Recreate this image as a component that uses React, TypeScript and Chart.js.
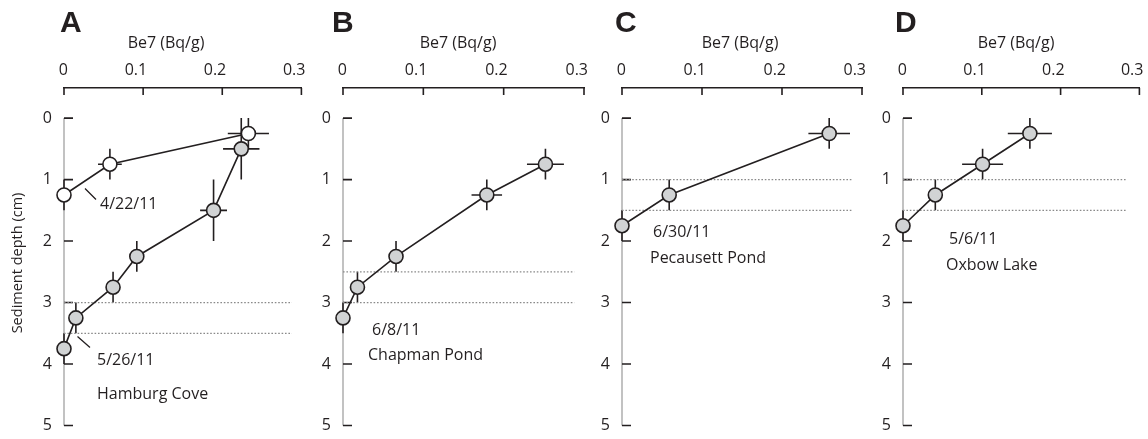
import React, { useEffect, useRef } from 'react';
import { Chart, registerables } from 'chart.js';

Chart.register(...registerables);

// ---------- shared axis data ----------
const X_TICKS = [0, 0.1, 0.2, 0.3];
const X_TICK_LABELS = ['0', '0.1', '0.2', '0.3'];
const DEPTH_TICKS = [0, 1, 2, 3, 4, 5];
const DEPTH_TICK_LABELS = ['0', '1', '2', '3', '4', '5'];
const X_TITLE = 'Be7 (Bq/g)';
const Y_TITLE = 'Sediment depth (cm)';

// ---------- Panel A: Hamburg Cove ----------
const A_APR_BE7 = [0.233, 0.058, 0];
const A_APR_DEPTH = [0.25, 0.75, 1.25];
const A_APR_BE7_ERR = [0.026, 0.015, 0];
const A_APR_DEPTH_ERR = [0.25, 0.25, 0.25];

const A_MAY_BE7 = [0.224, 0.189, 0.092, 0.062, 0.015, 0];
const A_MAY_DEPTH = [0.5, 1.5, 2.25, 2.75, 3.25, 3.75];
const A_MAY_BE7_ERR = [0.023, 0.017, 0.008, 0, 0, 0];
const A_MAY_DEPTH_ERR = [0.5, 0.5, 0.25, 0.25, 0.25, 0.25];
const A_BOUNDS = [3, 3.5];
const A_NOTES = ['4/22/11', '5/26/11', 'Hamburg Cove'];

// ---------- Panel B: Chapman Pond ----------
const B_BE7 = [0.252, 0.179, 0.066, 0.018, 0];
const B_DEPTH = [0.75, 1.25, 2.25, 2.75, 3.25];
const B_BE7_ERR = [0.023, 0.019, 0, 0, 0];
const B_DEPTH_ERR = [0.25, 0.25, 0.25, 0.25, 0.25];
const B_BOUNDS = [2.5, 3];
const B_NOTES = ['6/8/11', 'Chapman Pond'];

// ---------- Panel C: Pecausett Pond ----------
const C_BE7 = [0.259, 0.059, 0];
const C_DEPTH = [0.25, 1.25, 1.75];
const C_BE7_ERR = [0.026, 0, 0];
const C_DEPTH_ERR = [0.25, 0.25, 0.25];
const C_BOUNDS = [1, 1.5];
const C_NOTES = ['6/30/11', 'Pecausett Pond'];

// ---------- Panel D: Oxbow Lake ----------
const D_BE7 = [0.161, 0.101, 0.041, 0];
const D_DEPTH = [0.25, 0.75, 1.25, 1.75];
const D_BE7_ERR = [0.028, 0.026, 0.005, 0];
const D_DEPTH_ERR = [0.25, 0.25, 0.25, 0.25];
const D_BOUNDS = [1, 1.5];
const D_NOTES = ['5/6/11', 'Oxbow Lake'];

const BOUND_END = [0.288, 0.288, 0.288, 0.283];

// ---------- styling ----------
const H = 439;
const INK = '#231f20';
const GRAY_FILL = '#d1d3d4';
const OPEN_FILL = '#ffffff';
const FONT = '"Open Sans", "Noto Sans", sans-serif';

type Series = { be7: number[]; depth: number[]; be7Err: number[]; depthErr: number[]; fill: string };
type Note = { text: string; x: number; y: number };
type Panel = {
  letter: string;
  left: number;
  width: number;
  chartLeft: number;
  chartRight: number;
  letterX: number;
  titleX: number;
  yTitle: boolean;
  series: Series[];
  bounds: number[];
  boundEnd: number;
  notes: Note[];
  leaders: number[][];
};

const PANELS: Panel[] = [
  {
    letter: 'A', left: 0, width: 310, chartLeft: 64, chartRight: 303, letterX: 60, titleX: 166, yTitle: true,
    series: [
      { be7: A_APR_BE7, depth: A_APR_DEPTH, be7Err: A_APR_BE7_ERR, depthErr: A_APR_DEPTH_ERR, fill: OPEN_FILL },
      { be7: A_MAY_BE7, depth: A_MAY_DEPTH, be7Err: A_MAY_BE7_ERR, depthErr: A_MAY_DEPTH_ERR, fill: GRAY_FILL },
    ],
    bounds: A_BOUNDS, boundEnd: BOUND_END[0],
    notes: [
      { text: A_NOTES[0], x: 100, y: 208.5 },
      { text: A_NOTES[1], x: 97, y: 365 },
      { text: A_NOTES[2], x: 97, y: 399 },
    ],
    leaders: [[85, 188.5, 96, 199.5], [77.5, 336.5, 90, 347.5]],
  },
  {
    letter: 'B', left: 310, width: 288, chartLeft: 33, chartRight: 274, letterX: 332, titleX: 458, yTitle: false,
    series: [{ be7: B_BE7, depth: B_DEPTH, be7Err: B_BE7_ERR, depthErr: B_DEPTH_ERR, fill: GRAY_FILL }],
    bounds: B_BOUNDS, boundEnd: BOUND_END[1],
    notes: [
      { text: B_NOTES[0], x: 372, y: 334.5 },
      { text: B_NOTES[1], x: 368, y: 360 },
    ],
    leaders: [],
  },
  {
    letter: 'C', left: 598, width: 282, chartLeft: 24, chartRight: 264, letterX: 615, titleX: 740, yTitle: false,
    series: [{ be7: C_BE7, depth: C_DEPTH, be7Err: C_BE7_ERR, depthErr: C_DEPTH_ERR, fill: GRAY_FILL }],
    bounds: C_BOUNDS, boundEnd: BOUND_END[2],
    notes: [
      { text: C_NOTES[0], x: 653, y: 237 },
      { text: C_NOTES[1], x: 650, y: 263 },
    ],
    leaders: [],
  },
  {
    letter: 'D', left: 880, width: 268, chartLeft: 23, chartRight: 263, letterX: 895, titleX: 1016, yTitle: false,
    series: [{ be7: D_BE7, depth: D_DEPTH, be7Err: D_BE7_ERR, depthErr: D_DEPTH_ERR, fill: GRAY_FILL }],
    bounds: D_BOUNDS, boundEnd: BOUND_END[3],
    notes: [
      { text: D_NOTES[0], x: 949, y: 243.5 },
      { text: D_NOTES[1], x: 946, y: 269.5 },
    ],
    leaders: [],
  },
];

const decorPlugin = {
  id: 'panelDecor',
  beforeDatasetsDraw(chart: any, _args: any, opts: any) {
    const panel: Panel = opts.panel;
    const { ctx } = chart;
    const xs = chart.scales.x;
    const ys = chart.scales.y;
    const x0 = xs.getPixelForValue(0);
    ctx.save();
    // gray depth axis line
    ctx.strokeStyle = '#c2c2c2';
    ctx.lineWidth = 2;
    ctx.beginPath();
    ctx.moveTo(x0, ys.getPixelForValue(DEPTH_TICKS[0]));
    ctx.lineTo(x0, ys.getPixelForValue(DEPTH_TICKS[DEPTH_TICKS.length - 1]));
    ctx.stroke();
    // inward depth ticks
    ctx.strokeStyle = INK;
    ctx.lineWidth = 1.6;
    ctx.beginPath();
    for (const t of DEPTH_TICKS) {
      const y = ys.getPixelForValue(t);
      ctx.moveTo(x0, y);
      ctx.lineTo(x0 + 9, y);
    }
    // inward Be7 ticks
    const top = chart.chartArea.top;
    for (const t of X_TICKS) {
      const x = xs.getPixelForValue(t);
      ctx.moveTo(x, top);
      ctx.lineTo(x, top + 7);
    }
    ctx.stroke();
    // error bars
    ctx.lineWidth = 1.6;
    ctx.beginPath();
    for (const s of panel.series) {
      s.be7.forEach((v, i) => {
        const cx = xs.getPixelForValue(v);
        const cy = ys.getPixelForValue(s.depth[i]);
        if (s.be7Err[i] > 0) {
          ctx.moveTo(xs.getPixelForValue(v - s.be7Err[i]), cy);
          ctx.lineTo(xs.getPixelForValue(v + s.be7Err[i]), cy);
        }
        if (s.depthErr[i] > 0) {
          ctx.moveTo(cx, ys.getPixelForValue(s.depth[i] - s.depthErr[i]));
          ctx.lineTo(cx, ys.getPixelForValue(s.depth[i] + s.depthErr[i]));
        }
      });
    }
    ctx.stroke();
    ctx.restore();
  },
  afterDraw(chart: any, _args: any, opts: any) {
    const panel: Panel = opts.panel;
    const { ctx } = chart;
    const L = panel.left;
    ctx.save();
    ctx.fillStyle = INK;
    // panel letter
    ctx.font = 'bold 30px "Liberation Sans", Arial, sans-serif';
    ctx.textAlign = 'left';
    ctx.textBaseline = 'alphabetic';
    ctx.fillText(panel.letter, panel.letterX - L, 31.7);
    // Be7 axis title
    ctx.font = `16px ${FONT}`;
    ctx.textAlign = 'center';
    ctx.textBaseline = 'middle';
    ctx.fillText(X_TITLE, panel.titleX - L, 43);
    // depth title
    if (panel.yTitle) {
      ctx.save();
      ctx.translate(18 - L, 263);
      ctx.rotate(-Math.PI / 2);
      ctx.font = `14.5px ${FONT}`;
      ctx.fillText(Y_TITLE, 0, 0);
      ctx.restore();
    }
    // annotations
    ctx.font = `16px ${FONT}`;
    ctx.textAlign = 'left';
    ctx.textBaseline = 'alphabetic';
    for (const n of panel.notes) ctx.fillText(n.text, n.x - L, n.y);
    ctx.strokeStyle = INK;
    ctx.lineWidth = 1.3;
    ctx.beginPath();
    for (const [x1, y1, x2, y2] of panel.leaders) {
      ctx.moveTo(x1 - L, y1);
      ctx.lineTo(x2 - L, y2);
    }
    ctx.stroke();
    ctx.restore();
  },
};

function PanelChart({ panel }: { panel: Panel }) {
  const ref = useRef<HTMLCanvasElement>(null);
  useEffect(() => {
    const datasets: any[] = [];
    panel.bounds.forEach((b) => {
      datasets.push({
        data: [{ x: 0, y: b }, { x: panel.boundEnd, y: b }],
        showLine: true,
        borderColor: '#8a8a8a',
        borderWidth: 1.2,
        borderDash: [1.6, 1.8],
        pointRadius: 0,
        order: 5,
        clip: false,
      });
    });
    panel.series.forEach((s) => {
      datasets.push({
        data: s.be7.map((v, i) => ({ x: v, y: s.depth[i] })),
        showLine: true,
        borderColor: INK,
        borderWidth: 1.6,
        pointRadius: 7,
        pointBackgroundColor: s.fill,
        pointBorderColor: INK,
        pointBorderWidth: 1.6,
        order: 0,
        clip: false,
      });
    });
    const tickFont = { family: FONT, size: 16 };
    const chart = new Chart(ref.current as HTMLCanvasElement, {
      type: 'scatter',
      data: { datasets },
      plugins: [decorPlugin as any],
      options: {
        responsive: false,
        animation: false,
        layout: { padding: { left: 0, top: 0, right: panel.width - panel.chartRight, bottom: H - 425.5 } },
        plugins: {
          legend: { display: false },
          tooltip: { enabled: false },
          panelDecor: { panel },
        } as any,
        scales: {
          x: {
            type: 'linear',
            position: 'top',
            min: X_TICKS[0],
            max: X_TICKS[X_TICKS.length - 1],
            afterBuildTicks: (s: any) => { s.ticks = X_TICKS.map((v) => ({ value: v })); },
            afterFit: (s: any) => { s.height = 88; s.paddingLeft = 0; s.paddingRight = 0; },
            grid: { display: false, drawTicks: false },
            border: { display: true, color: INK, width: 1.6 },
            ticks: {
              align: 'end',
              labelOffset: 4,
              padding: 8,
              color: INK,
              font: tickFont,
              callback: (_v: any, i: number) => X_TICK_LABELS[i],
            },
          },
          y: {
            type: 'linear',
            position: 'left',
            reverse: true,
            min: -0.49,
            max: DEPTH_TICKS[DEPTH_TICKS.length - 1],
            afterBuildTicks: (s: any) => { s.ticks = DEPTH_TICKS.map((v) => ({ value: v })); },
            afterFit: (s: any) => { s.width = panel.chartLeft; s.paddingTop = 0; s.paddingBottom = 0; },
            grid: { display: false, drawTicks: false },
            border: { display: false },
            ticks: {
              padding: 12,
              color: INK,
              font: tickFont,
              callback: (_v: any, i: number) => DEPTH_TICK_LABELS[i],
            },
          },
        } as any,
      },
    });
    return () => chart.destroy();
  }, [panel]);
  return (
    <canvas
      ref={ref}
      width={panel.width}
      height={H}
      style={{ position: 'absolute', left: panel.left, top: 0, width: panel.width, height: H }}
    />
  );
}

export default function App() {
  return (
    <div style={{ position: 'absolute', left: 0, top: 0, width: 1148, height: H, background: '#fff', overflow: 'hidden' }}>
      {PANELS.map((p) => (
        <PanelChart key={p.letter} panel={p} />
      ))}
    </div>
  );
}
